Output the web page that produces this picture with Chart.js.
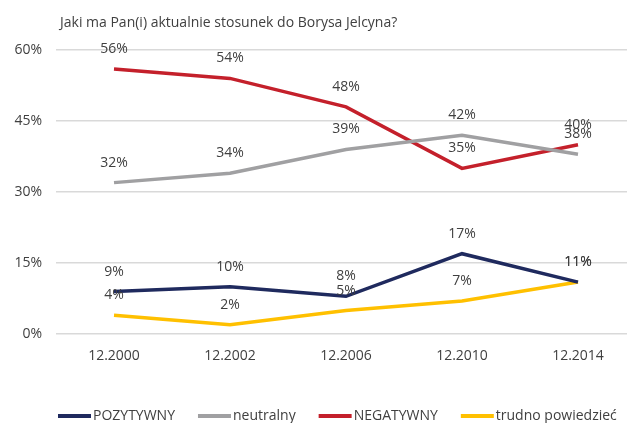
<!DOCTYPE html>
<html>
<head>
<meta charset="utf-8">
<script src="https://cdn.jsdelivr.net/npm/chart.js@4"></script>
<style>
    html, body { margin: 0; padding: 0; background: #fff; overflow: hidden; }
    #wrap { width: 636px; height: 423px; }
</style>
</head>
<body>
<div id="wrap"><canvas id="myChart" width="636" height="423"></canvas></div>
<script>
const title = "Jaki ma Pan(i) aktualnie stosunek do Borysa Jelcyna?";
const labels = ["12.2000", "12.2002", "12.2006", "12.2010", "12.2014"];
const seriesNames = ["POZYTYWNY", "neutralny", "NEGATYWNY", "trudno powiedzieć"];
const pozytywny = [9, 10, 8, 17, 11];
const neutralny = [32, 34, 39, 42, 38];
const negatywny = [56, 54, 48, 35, 40];
const trudno = [4, 2, 5, 7, 11];
const yTicks = [0, 15, 30, 45, 60];

const colors = ["#1f2a5e", "#a0a0a2", "#c4202b", "#ffc000"];
const textColor = "#404040";
const font = "14px 'Open Sans'";

const extras = {
    id: "extras",
    afterDatasetsDraw(chart) {
        const ctx = chart.ctx;
        ctx.save();
        ctx.font = font;
        ctx.fillStyle = textColor;
        ctx.textAlign = "center";
        ctx.textBaseline = "middle";
        chart.data.datasets.forEach((ds, i) => {
            chart.getDatasetMeta(i).data.forEach((pt, j) => {
                ctx.fillText(ds.data[j] + "%", pt.x, pt.y - 20);
            });
        });

        // title
        ctx.textAlign = "left";
        ctx.fillText(title, chart.chartArea.left + 4, 23);

        // legend
        let x = chart.chartArea.left + 2;
        const y = 416;
        chart.data.datasets.forEach(ds => {
            ctx.strokeStyle = ds.borderColor;
            ctx.lineWidth = 4;
            ctx.lineCap = "butt";
            ctx.beginPath();
            ctx.moveTo(x, y);
            ctx.lineTo(x + 33, y);
            ctx.stroke();
            ctx.fillStyle = textColor;
            ctx.fillText(ds.label, x + 35, y);
            x += 35 + ctx.measureText(ds.label).width + 23;
        });
        ctx.restore();
    }
};

const data = [pozytywny, neutralny, negatywny, trudno];

new Chart(document.getElementById("myChart"), {
    type: "line",
    data: {
        labels: labels,
        datasets: data.map((d, i) => ({
            label: seriesNames[i],
            data: d,
            borderColor: colors[i],
            backgroundColor: colors[i],
            borderWidth: 3.5,
            pointRadius: 0,
            tension: 0,
            fill: false
        }))
    },
    options: {
        responsive: false,
        animation: false,
        devicePixelRatio: 1,
        layout: { padding: { top: 50, left: 13, right: 0, bottom: 54 } },
        plugins: {
            legend: { display: false },
            title: { display: false },
            tooltip: { enabled: false }
        },
        scales: {
            x: {
                offset: true,
                grid: { display: false },
                border: { display: false },
                ticks: { color: textColor, font: { family: "Open Sans", size: 14 }, padding: 5, maxRotation: 0 }
            },
            y: {
                min: yTicks[0],
                max: yTicks[yTicks.length - 1],
                afterBuildTicks: scale => { scale.ticks = yTicks.map(v => ({ value: v })); },
                afterFit: scale => { scale.width = 43; },
                grid: { color: "#d9d9d9", lineWidth: 1.5, drawTicks: false },
                border: { display: false },
                ticks: {
                    color: textColor,
                    font: { family: "Open Sans", size: 14 },
                    padding: 14,
                    callback: v => v + "%"
                }
            }
        }
    },
    plugins: [extras]
});
</script>
</body>
</html>
